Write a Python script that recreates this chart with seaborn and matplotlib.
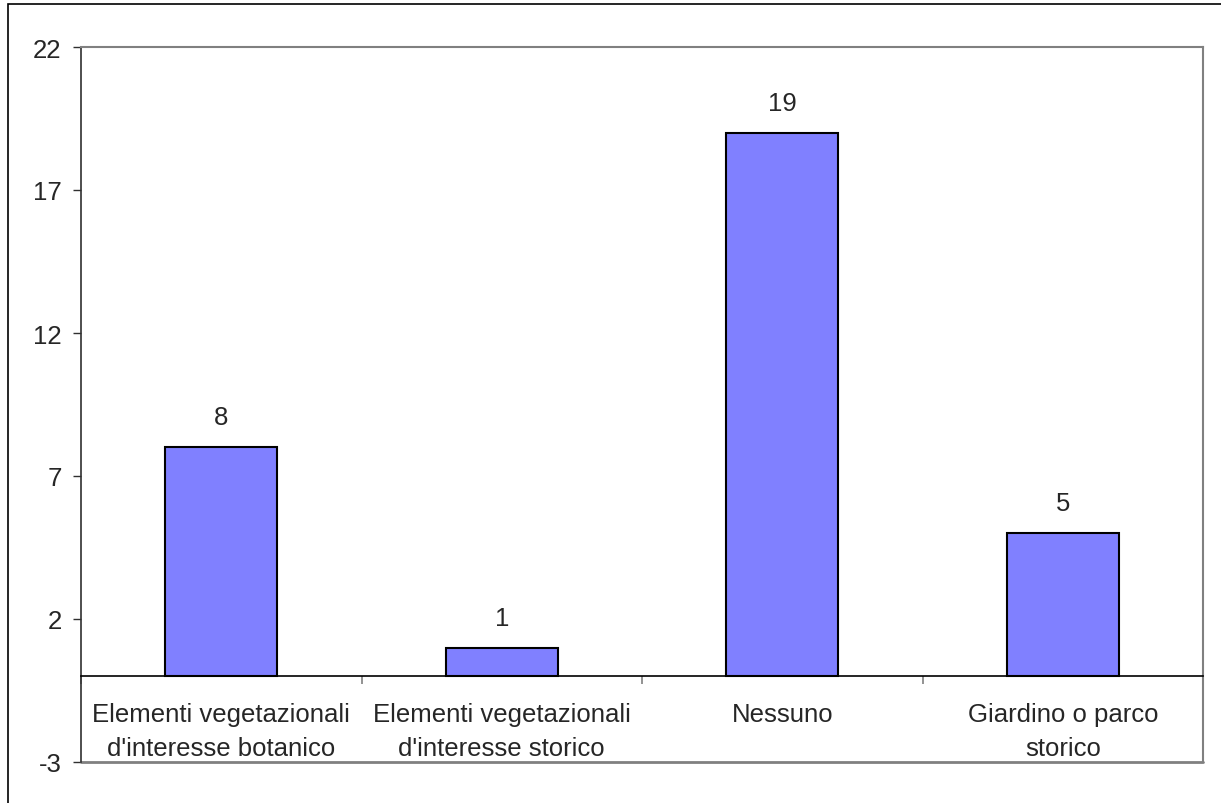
import numpy as np
import pandas as pd
import matplotlib
matplotlib.use("Agg")
import matplotlib.pyplot as plt
from matplotlib.patches import Rectangle
import seaborn as sns

# Data
categories = ["Elementi vegetazionali\nd'interesse botanico",
              "Elementi vegetazionali\nd'interesse storico",
              "Nessuno",
              "Giardino o parco\nstorico"]
values = [8, 1, 19, 5]
y_ticks = [-3, 2, 7, 12, 17, 22]

df = pd.DataFrame({'categoria': categories, 'valore': values})

sns.set_style("white")
plt.rcParams['font.family'] = ['Liberation Sans', 'DejaVu Sans']
plt.rcParams['axes.unicode_minus'] = False

fig = plt.figure(figsize=(12.21, 8.04), dpi=100)
ax = fig.add_axes([81/1221, 1 - 763/804, (1203 - 81)/1221, (763 - 48)/804])

fs = 18.5
sns.barplot(data=df, x='categoria', y='valore', color='#8080FF', saturation=1,
            edgecolor='black', linewidth=1.5, width=0.4, ax=ax)
ax.bar_label(ax.containers[0], labels=[str(v) for v in values],
             padding=13, fontsize=fs)

ax.set_ylim(-3, 22)
ax.set_xlim(-0.5, 3.5)
ax.set_yticks(y_ticks)
ax.set_xlabel('')
ax.set_ylabel('')

# spines: category axis sits at zero
for s in ['top', 'right']:
    ax.spines[s].set_color('#808080')
    ax.spines[s].set_linewidth(1.5)
ax.spines['left'].set_color('#303030')
ax.spines['left'].set_linewidth(1.2)
ax.spines['bottom'].set_position(('data', 0))
ax.spines['bottom'].set_color('black')
ax.spines['bottom'].set_linewidth(1.2)
ax.axhline(-3, color='#808080', lw=2, clip_on=False)

ax.tick_params(axis='y', length=6, width=1, color='#303030', pad=8,
               labelsize=fs, left=True)
ax.tick_params(axis='x', which='major', length=0, pad=18.5, labelsize=fs)
ax.set_xticks(np.arange(-0.5, 4.0, 1.0), minor=True)
ax.tick_params(axis='x', which='minor', length=6, width=1.2,
               color='#808080', bottom=True)
for t in ax.get_xticklabels():
    t.set_linespacing(1.52)

# outer chart border
fig.patches.append(Rectangle((8/1221, -0.1), 1.2, 1 - 5/804 + 0.1,
                             transform=fig.transFigure, fill=False,
                             edgecolor='black', lw=1.2))

plt.savefig('out.png', dpi=100)
